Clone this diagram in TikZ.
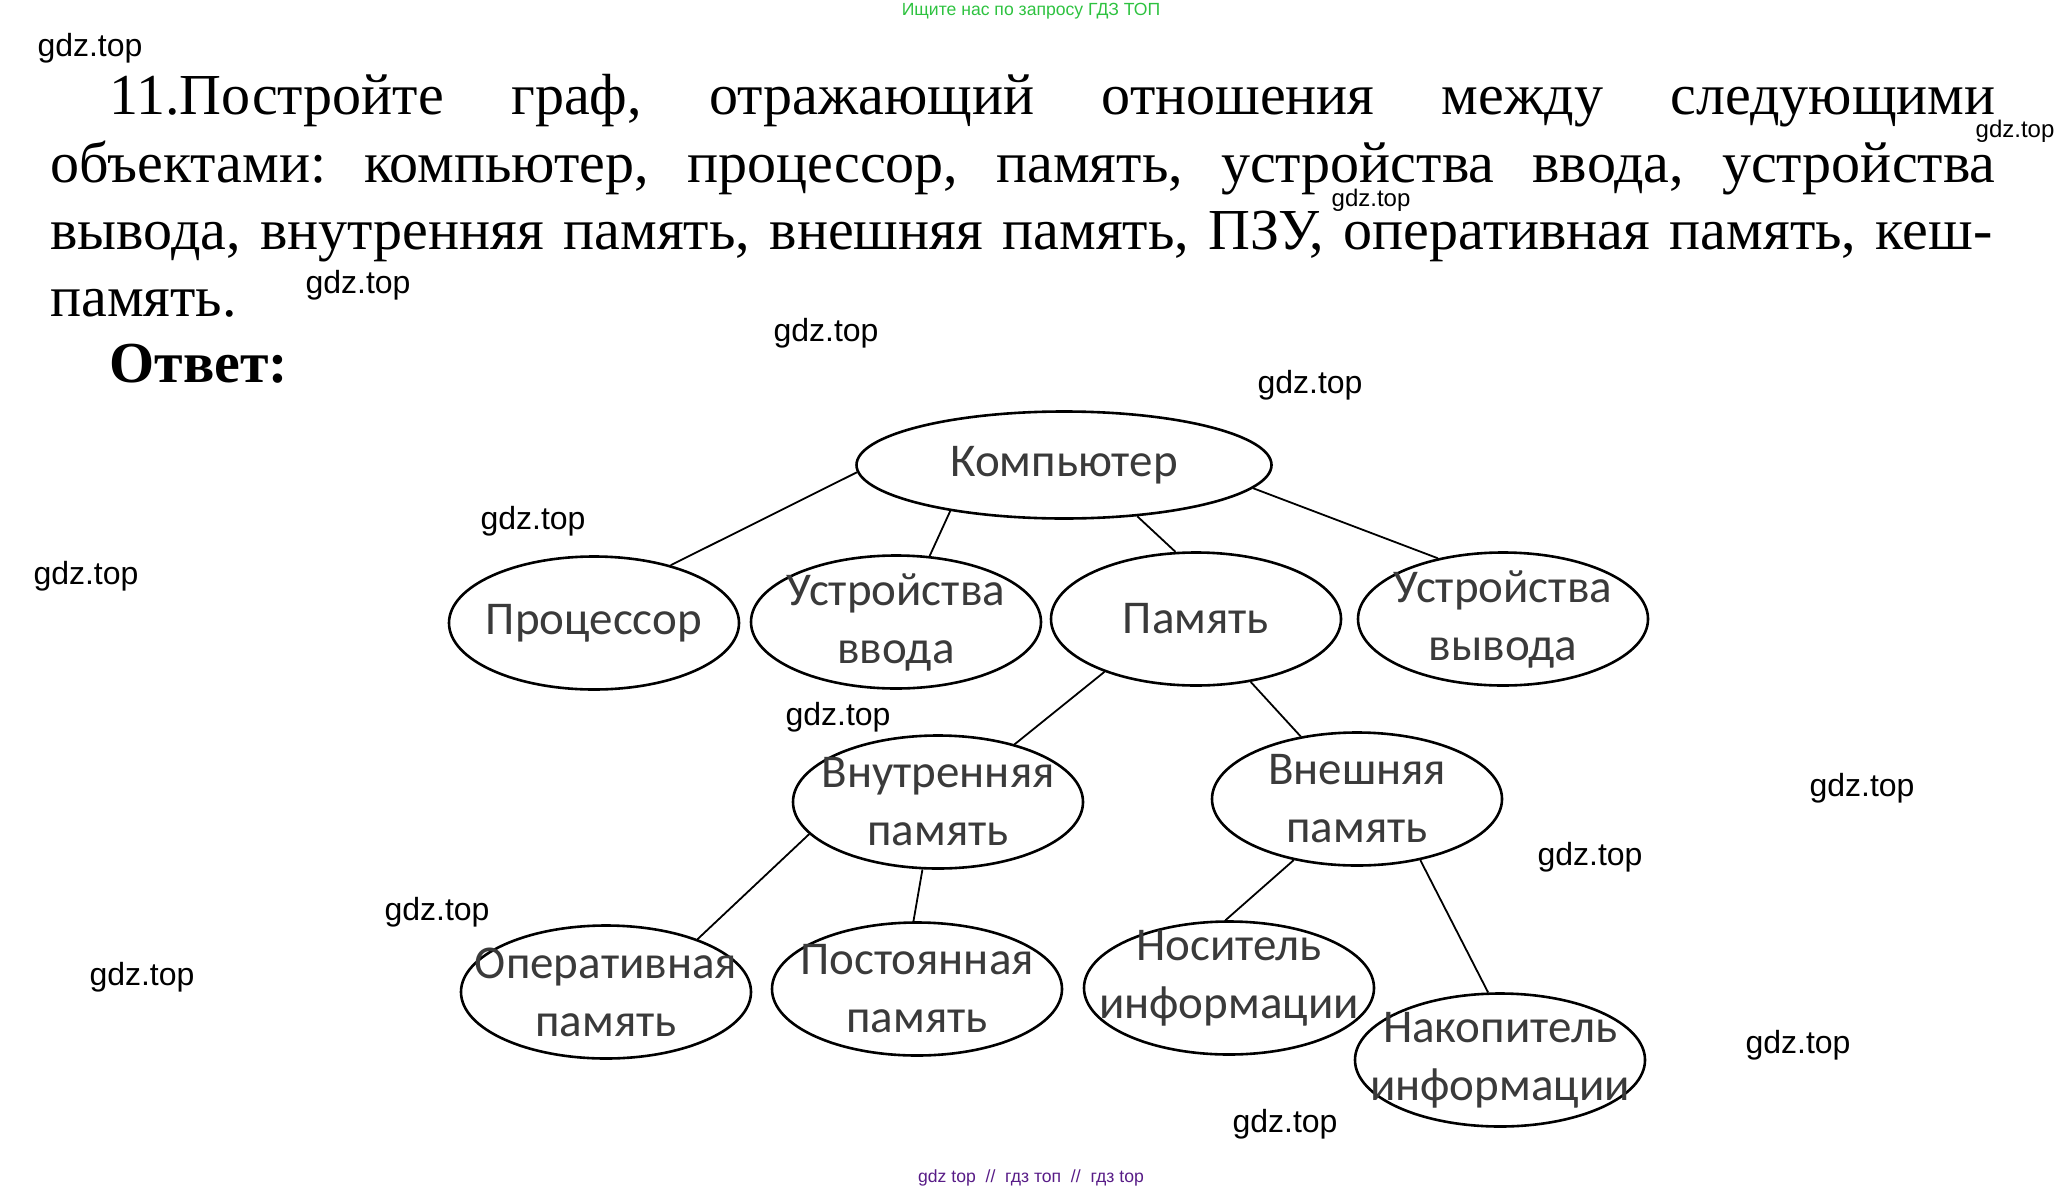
\documentclass[tikz,border=0pt]{standalone}
\usepackage{fontspec}
\setmainfont{Liberation Serif}
\newfontfamily\nodefont{Carlito}
\newfontfamily\wmfont{Liberation Sans}
\usepackage{tikz}
\definecolor{nodegray}{RGB}{58,58,58}
\definecolor{wmgreen}{RGB}{46,194,64}
\definecolor{wmpurple}{RGB}{88,28,135}
\usetikzlibrary{shapes.geometric}
\pgfdeclarelayer{edgelayer}
\pgfdeclarelayer{nodelayer}
\pgfsetlayers{edgelayer,nodelayer,main}
\frenchspacing
\tikzstyle{ell}=[ellipse,draw=black,line width=1.3pt,minimum width=145pt,minimum height=66.5pt,inner sep=0pt]
\tikzstyle{bigell}=[ell,minimum width=207.5pt,minimum height=53.5pt]
\tikzstyle{lbl}=[text=nodegray,font=\nodefont\fontsize{23.5}{29}\selectfont,align=center,inner sep=0pt]
\tikzstyle{task}=[anchor=base west,inner sep=0pt,font=\fontsize{29}{33}\selectfont]
\tikzstyle{wm}=[inner sep=0pt,font=\wmfont\fontsize{16}{18}\selectfont]
\tikzstyle{wmsmall}=[inner sep=0pt,font=\wmfont\fontsize{12}{14}\selectfont]
\tikzstyle{edge}=[draw=black,line width=0.9pt]

\begin{document}
\begin{tikzpicture}[x=0.5pt,y=-0.5pt]
        \useasboundingbox (0, 0) rectangle (2065, 1193);

        \begin{pgfonlayer}{nodelayer}
            \node [style = bigell] (komp) at (1064, 465) {};
            \node [style = lbl] (kompt) at (komp.center) {Компьютер};

            \node [style = ell] (proc) at (594, 623) {};
            \node [style = lbl] (proct) at (proc.center) {Процессор};
            \node [style = ell] (vvod) at (896, 622) {};
            \node [style = lbl] (vvodt) at (vvod.center) {Устройства\\ввода};
            \node [style = ell] (mem) at (1196, 619) {};
            \node [style = lbl] (memt) at (mem.center) {Память};
            \node [style = ell] (vyvod) at (1503, 619) {};
            \node [style = lbl] (vyvodt) at (vyvod.center) {Устройства\\вывода};

            \node [style = ell] (vnutr) at (938, 802) {};
            \node [style = lbl] (vnutrt) at (vnutr.center) {Внутренняя\\память};
            \node [style = ell] (vnesh) at (1357, 799) {};
            \node [style = lbl] (vnesht) at (vnesh.center) {Внешняя\\память};

            \node [style = ell] (oper) at (606, 992) {};
            \node [style = lbl] (opert) at (oper.center) {Оперативная\\память};
            \node [style = ell] (post) at (917, 989) {};
            \node [style = lbl] (postt) at (post.center) {Постоянная\\память};
            \node [style = ell] (nos) at (1229, 988) {};
            \node [style = lbl] (nost) at ([yshift=5pt]nos.center) {Носитель\\информации};
            \node [style = ell] (nakop) at (1500, 1060) {};
            \node [style = lbl] (nakopt) at (nakop.center) {Накопитель\\информации};
        \end{pgfonlayer}

        \begin{pgfonlayer}{edgelayer}
            \draw [style = edge] (komp.182) to (proc.37);
            \draw [style = edge] (komp.202) to (vvod.63);
            \draw [style = edge] (komp.325) to (mem.107);
            \draw [style = edge] (komp.353) to (vyvod.137);

            \draw [style = edge] (mem.210) to (vnutr.37);
            \draw [style = edge] (mem.311) to (vnesh.132);

            \draw [style = edge] (vnutr.194) to (oper.30);
            \draw [style = edge] (vnutr.257) to (post.93);
            \draw [style = edge] (vnesh.224) to (nos.93);
            \draw [style = edge] (vnesh.316) to (nakop.100);
        \end{pgfonlayer}

        % task text
        \node [style = task] (line1) at (109, 115) {\makebox[943pt][s]{11.Постройте граф, отражающий отношения между следующими}};
        \node [style = task] (line2) at (50, 182) {\makebox[972.5pt][s]{объектами: компьютер, процессор, память, устройства ввода, устройства}};
        \node [style = task] (line3) at (50, 249) {\makebox[971pt][s]{вывода, внутренняя память, внешняя память, ПЗУ, оперативная память, кеш-}};
        \node [style = task] (line4) at (50, 316) {память.};
        \node [style = task, font=\bfseries\fontsize{29}{33}\selectfont] (answer) at (109, 382) {Ответ:};

        % site marks
        \node [inner sep=0pt, text=wmgreen, font=\wmfont\fontsize{8.8}{10}\selectfont] (search) at (1031, 11) {Ищите нас по запросу ГДЗ ТОП};
        \node [inner sep=0pt, text=wmpurple, font=\wmfont\fontsize{8.8}{10}\selectfont] (footer) at (1031, 1178) {gdz top~~//~~гдз топ~~//~~гдз top};

        \node [style = wm] (wm1) at (90, 48) {gdz.top};
        \node [style = wmsmall] (wm2) at (2015, 131) {gdz.top};
        \node [style = wmsmall] (wm3) at (1371, 200) {gdz.top};
        \node [style = wm] (wm4) at (358, 285) {gdz.top};
        \node [style = wm] (wm5) at (826, 333) {gdz.top};
        \node [style = wm] (wm6) at (1310, 385) {gdz.top};
        \node [style = wm] (wm7) at (533, 521) {gdz.top};
        \node [style = wm] (wm8) at (86, 576) {gdz.top};
        \node [style = wm] (wm9) at (838, 717) {gdz.top};
        \node [style = wm] (wm10) at (1862, 788) {gdz.top};
        \node [style = wm] (wm11) at (1590, 857) {gdz.top};
        \node [style = wm] (wm12) at (437, 912) {gdz.top};
        \node [style = wm] (wm13) at (142, 977) {gdz.top};
        \node [style = wm] (wm14) at (1798, 1045) {gdz.top};
        \node [style = wm] (wm15) at (1285, 1124) {gdz.top};
    \end{tikzpicture}
\end{document}
